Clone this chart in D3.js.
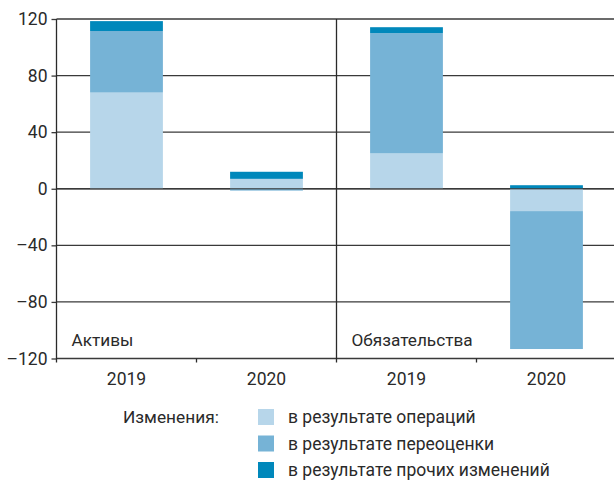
<!DOCTYPE html>
<html>
<head>
<meta charset="utf-8">
<script src="https://cdn.jsdelivr.net/npm/d3@7"></script>
<style>
    body { margin: 0; background: #fff; }
    svg { display: block; font-family: Roboto, "Open Sans", sans-serif; }
</style>
</head>
<body>
<div id="chart"></div>
<script>
// categories (group + year)
var categories = ["A2019", "A2020", "L2019", "L2020"];
var yearLabels = ["2019", "2020", "2019", "2020"];
var groupLabels = ["Активы", "Обязательства"];

// series values
var operations = [68, 7, 25, -15.8];
var revaluation = [43.5, -1.3, 85, -97.5];
var other = [7, 5, 4.2, 2.5];

var seriesKeys = ["operations", "revaluation", "other"];
var seriesNames = ["в результате операций", "в результате переоценки", "в результате прочих изменений"];
var seriesColors = ["#b7d6ea", "#76b3d6", "#0088bb"];

var yTicks = [-120, -80, -40, 0, 40, 80, 120];

var width = 614, height = 487;
var margin = { top: 19, right: 0, bottom: 128, left: 56.5 };

var svG = d3.select("#chart")
    .append("svg")
    .attr("width", width)
    .attr("height", height);

// table for the stack
var table = categories.map(function (c, i) {
    return { cat: c, operations: operations[i], revaluation: revaluation[i], other: other[i] };
});

var stacked = d3.stack()
    .keys(seriesKeys)
    .offset(d3.stackOffsetDiverging)(table);

var x = d3.scaleBand()
    .domain(categories)
    .range([margin.left, margin.left + 560])
    .paddingInner(0.48)
    .paddingOuter(0.24);

var y = d3.scaleLinear()
    .domain([-120, 120])
    .range([height - margin.bottom - 0.5, margin.top]);

// grid lines
svG.append("g")
    .selectAll("line")
    .data(yTicks)
    .join("line")
    .attr("x1", margin.left)
    .attr("x2", width)
    .attr("y1", d => y(d))
    .attr("y2", d => y(d))
    .attr("stroke", "#3a3a3a")
    .attr("stroke-width", 1.3);

// bars
svG.append("g")
    .selectAll("g")
    .data(stacked)
    .join("g")
    .attr("fill", (d, i) => seriesColors[i])
    .selectAll("rect")
    .data(d => d)
    .join("rect")
    .attr("x", d => x(d.data.cat))
    .attr("width", x.bandwidth())
    .attr("y", d => y(Math.max(d[0], d[1])))
    .attr("height", d => Math.abs(y(d[0]) - y(d[1])));

// the zero line goes over the bars
svG.append("line")
    .attr("x1", margin.left)
    .attr("x2", width)
    .attr("y1", y(0))
    .attr("y2", y(0))
    .attr("stroke", "#3a3a3a")
    .attr("stroke-opacity", 0.7)
    .attr("stroke-width", 1.3);

// y axis
var yAxis = svG.append("g")
    .attr("transform", "translate(" + margin.left + ",0)")
    .call(d3.axisLeft(y)
        .tickValues(yTicks)
        .tickSize(5)
        .tickPadding(4)
        .tickFormat(d => d < 0 ? "\u2013" + Math.abs(d) : d));
yAxis.select(".domain").remove();
yAxis.selectAll("line").attr("stroke", "#3a3a3a").attr("stroke-width", 1.3);
yAxis.selectAll("text")
    .attr("font-size", 17.5)
    .attr("fill", "#2a2a2a")
    .attr("font-family", "Roboto, sans-serif");

// vertical lines: left axis and group divider
var step = x.step();
svG.append("line")
    .attr("x1", margin.left).attr("x2", margin.left)
    .attr("y1", margin.top).attr("y2", y(-120) + 4)
    .attr("stroke", "#2a2a2a").attr("stroke-width", 1.3);
svG.append("line")
    .attr("x1", margin.left + 2 * step).attr("x2", margin.left + 2 * step)
    .attr("y1", margin.top).attr("y2", y(-120) + 4)
    .attr("stroke", "#2a2a2a").attr("stroke-width", 1.3);

// bottom ticks
svG.append("g")
    .selectAll("line")
    .data([1, 3])
    .join("line")
    .attr("x1", d => margin.left + d * step)
    .attr("x2", d => margin.left + d * step)
    .attr("y1", y(-120))
    .attr("y2", y(-120) + 4)
    .attr("stroke", "#2a2a2a").attr("stroke-width", 1.3);

// year labels
svG.append("g")
    .selectAll("text")
    .data(categories)
    .join("text")
    .attr("x", d => x(d) + x.bandwidth() / 2)
    .attr("y", y(-120) + 26)
    .attr("text-anchor", "middle")
    .attr("font-size", 17.5)
    .attr("fill", "#2a2a2a")
    .text((d, i) => yearLabels[i]);

// group labels
svG.append("g")
    .selectAll("text")
    .data(groupLabels)
    .join("text")
    .attr("x", (d, i) => margin.left + 15 + i * 2 * step)
    .attr("y", y(-120) - 13)
    .attr("font-size", 17.2)
    .attr("fill", "#2a2a2a")
    .text(d => d);

// legend
var legend = svG.append("g");
legend.append("text")
    .attr("x", 123)
    .attr("y", 423)
    .attr("font-size", 17.3)
    .attr("fill", "#2a2a2a")
    .text("Изменения:");

var rows = legend.selectAll("g")
    .data(seriesNames)
    .join("g")
    .attr("transform", (d, i) => "translate(258," + (409 + i * 26.5) + ")");
rows.append("rect")
    .attr("width", 16)
    .attr("height", 16)
    .attr("fill", (d, i) => seriesColors[i]);
rows.append("text")
    .attr("x", 30)
    .attr("y", 14)
    .attr("font-size", 17.5)
    .attr("fill", "#2a2a2a")
    .text(d => d);
</script>
</body>
</html>
